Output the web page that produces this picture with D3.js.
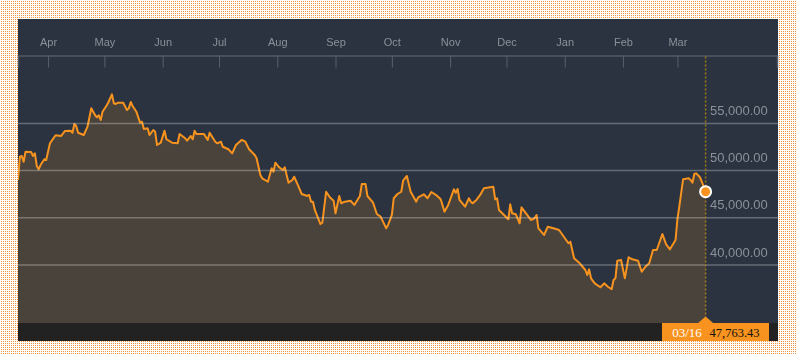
<!DOCTYPE html>
<html>
<head>
<meta charset="utf-8">
<script src="https://cdn.jsdelivr.net/npm/d3@7"></script>
<style>
  html, body { margin: 0; padding: 0; background: #fff; }
  #wrap { position: relative; width: 796px; height: 355px; }
  #bg, #chart { position: absolute; left: 0; top: 0; display: block; }
</style>
</head>
<body>
<div id="wrap">
<canvas id="bg" width="796" height="355"></canvas>
<svg id="chart" width="796" height="355"></svg>
</div>
<script>
const dates = [
"2023-03-16","2023-03-17","2023-03-18","2023-03-19","2023-03-20","2023-03-23","2023-03-24","2023-03-25","2023-03-26","2023-03-27",
"2023-03-28","2023-03-30","2023-03-31","2023-04-02","2023-04-03","2023-04-05","2023-04-08","2023-04-10","2023-04-13","2023-04-14",
"2023-04-15","2023-04-16","2023-04-17","2023-04-20","2023-04-22","2023-04-24","2023-04-26","2023-04-27","2023-04-28","2023-04-29",
"2023-04-30","2023-05-02","2023-05-03","2023-05-05","2023-05-06","2023-05-07","2023-05-08","2023-05-11","2023-05-13","2023-05-14",
"2023-05-15","2023-05-16","2023-05-18","2023-05-20","2023-05-21","2023-05-22","2023-05-24","2023-05-25","2023-05-27","2023-05-28",
"2023-05-29","2023-05-31","2023-06-02","2023-06-03","2023-06-06","2023-06-09","2023-06-10","2023-06-13","2023-06-14","2023-06-16",
"2023-06-17","2023-06-18","2023-06-19","2023-06-23","2023-06-25","2023-06-26","2023-06-29","2023-06-30","2023-07-02","2023-07-03",
"2023-07-06","2023-07-08","2023-07-10","2023-07-13","2023-07-14","2023-07-15","2023-07-17","2023-07-20","2023-07-21","2023-07-23",
"2023-07-24","2023-07-27","2023-07-29","2023-07-30","2023-07-31","2023-08-02","2023-08-04","2023-08-05","2023-08-07","2023-08-09",
"2023-08-10","2023-08-12","2023-08-14","2023-08-17","2023-08-18","2023-08-19","2023-08-20","2023-08-21","2023-08-24","2023-08-25",
"2023-08-27","2023-08-29","2023-08-31","2023-09-01","2023-09-03","2023-09-04","2023-09-06","2023-09-09","2023-09-11","2023-09-14",
"2023-09-15","2023-09-17","2023-09-18","2023-09-21","2023-09-23","2023-09-25","2023-09-28","2023-09-29","2023-10-01","2023-10-02",
"2023-10-04","2023-10-06","2023-10-07","2023-10-09","2023-10-11","2023-10-14","2023-10-15","2023-10-18","2023-10-20","2023-10-22",
"2023-10-25","2023-10-27","2023-10-29","2023-10-31","2023-11-03","2023-11-04","2023-11-05","2023-11-06","2023-11-09","2023-11-11",
"2023-11-12","2023-11-13","2023-11-15","2023-11-17","2023-11-19","2023-11-24","2023-11-25","2023-11-26","2023-11-27","2023-12-02",
"2023-12-03","2023-12-04","2023-12-06","2023-12-08","2023-12-09","2023-12-12","2023-12-14","2023-12-16","2023-12-17","2023-12-18",
"2023-12-21","2023-12-23","2023-12-26","2023-12-29","2024-01-03","2024-01-04","2024-01-06","2024-01-09","2024-01-12","2024-01-13",
"2024-01-14","2024-01-15","2024-01-17","2024-01-20","2024-01-22","2024-01-24","2024-01-26","2024-01-27","2024-01-28","2024-01-29",
"2024-01-31","2024-02-02","2024-02-04","2024-02-06","2024-02-09","2024-02-11","2024-02-13","2024-02-15","2024-02-17","2024-02-19",
"2024-02-22","2024-02-24","2024-02-26","2024-02-29","2024-03-01","2024-03-02","2024-03-04","2024-03-07","2024-03-08","2024-03-09",
"2024-03-10","2024-03-11","2024-03-13","2024-03-14","2024-03-16"
];
const values = [
49000,51470,51550,50940,52000,51970,51550,51830,50490,50140,
50590,51200,51120,52890,53170,53740,53670,54200,54230,54010,
54940,54720,54010,53770,54650,56600,55890,55650,55860,55360,
56240,56840,57190,58080,57130,57050,57190,57190,56420,56600,
57270,56840,56240,55070,55180,54410,54480,53770,54300,54120,
52710,52960,54230,53320,52960,52890,53880,53420,53170,53670,
53320,54230,53880,53880,53240,54010,53060,52890,53060,52530,
52260,51830,52710,53240,53170,53060,52260,51650,51300,49530,
49180,48820,50240,49880,50840,50350,50060,50350,48720,49000,
49350,48470,47520,47310,47420,46710,46710,45830,44340,44480,
47760,47170,46810,45480,47310,46540,46710,46810,46360,47310,
48580,48580,47310,46600,45400,45120,43890,44240,45300,47070,
47520,47760,48930,49430,47760,46710,47170,47490,47070,47730,
47340,46960,45650,46360,48020,47660,48050,46890,46180,47070,
46710,46540,46890,47420,48120,48290,46960,47070,45830,44840,
46430,45480,45370,44420,46110,45300,44770,44950,45300,43890,
43180,44060,43890,43710,42300,42470,40710,40180,39470,38940,
39540,38590,38060,37640,38060,37700,37430,38410,38590,40460,
40530,38590,40820,40600,40460,39290,39820,40180,41590,41590,
43280,42190,41660,42650,44870,46180,49080,49180,49000,48720,
49640,49710,49290,48820,47763.43
];
const monthTicks = ["2023-04-01","2023-05-01","2023-06-01","2023-07-01","2023-08-01","2023-09-01",
  "2023-10-01","2023-11-01","2023-12-01","2024-01-01","2024-02-01","2024-03-01"];
const yTicks = [40000, 45000, 50000, 55000];
const xDomain = ["2023-03-16", "2024-04-23"];
const yRef = [40000, 55000];
const lastDate = "2024-03-16";
const lastValue = 47763.43;

const parse = d3.utcParse("%Y-%m-%d");
const data = dates.map((d, i) => ({ date: parse(d), value: values[i] }));

const W = 796, H = 355;
const panel = { x: 18, y: 19, w: 760, h: 322 };
const plotBottom = 323;
const axisY = 55.5;

// dotted page background on a canvas (1px orange dot every 2px)
(function () {
  const c = document.getElementById("bg");
  const ctx = c.getContext("2d");
  ctx.fillStyle = "#ffffff";
  ctx.fillRect(0, 0, W, H);
  const tile = document.createElement("canvas");
  tile.width = 2; tile.height = 2;
  const tctx = tile.getContext("2d");
  tctx.fillStyle = "#ffffff"; tctx.fillRect(0, 0, 2, 2);
  tctx.fillStyle = "#f2923a"; tctx.fillRect(1, 1, 1, 1);
  ctx.fillStyle = ctx.createPattern(tile, "repeat");
  ctx.fillRect(0, 0, W, H);
})();

const svg = d3.select("#chart");
const defs = svg.append("defs");

defs.append("clipPath").attr("id", "clip")
  .append("rect").attr("x", panel.x).attr("y", panel.y).attr("width", panel.w).attr("height", plotBottom - panel.y);

svg.append("rect").attr("x", panel.x).attr("y", panel.y).attr("width", panel.w).attr("height", panel.h)
  .attr("fill", "#2a333f");
svg.append("rect").attr("x", panel.x).attr("y", plotBottom).attr("width", panel.w).attr("height", panel.y + panel.h - plotBottom)
  .attr("fill", "#222222");

const x = d3.scaleUtc().domain(xDomain.map(parse)).range([18, 777]);
const y = d3.scaleLinear().domain(yRef).range([265, 123.4]);

const g = svg.append("g").attr("clip-path", "url(#clip)");

const area = d3.area().x(d => x(d.date)).y0(plotBottom).y1(d => y(d.value));
const line = d3.line().x(d => x(d.date)).y(d => y(d.value));

g.append("path").datum(data).attr("d", area).attr("fill", "#4a433c");

// gridlines
svg.append("g").selectAll("line").data(yTicks).join("line")
  .attr("x1", panel.x).attr("x2", panel.x + panel.w)
  .attr("y1", d => y(d)).attr("y2", d => y(d))
  .attr("stroke", "rgba(255,255,255,0.28)").attr("stroke-width", 1.5);

g.append("path").datum(data).attr("d", line).attr("fill", "none")
  .attr("stroke", "#f7931e").attr("stroke-width", 2).attr("stroke-linejoin", "round");

// y labels
svg.append("g").selectAll("text").data(yTicks).join("text")
  .attr("x", 710).attr("y", d => y(d) - 8.5)
  .attr("font-family", "'Liberation Sans', Arial, Helvetica, sans-serif")
  .attr("font-size", 13).attr("fill", "#8b9199")
  .text(d => d3.format(",.2f")(d));

// top axis
const xAxis = d3.axisBottom(x).tickValues(monthTicks.map(parse))
  .tickFormat(d3.utcFormat("%b")).tickSize(12).tickSizeOuter(12);
const ax = svg.append("g").attr("transform", `translate(0,${axisY})`).call(xAxis);
ax.select(".domain").attr("stroke", "#525a64").attr("stroke-width", 1.5);
ax.selectAll(".tick line").attr("stroke", "#59606a").attr("stroke-width", 1);
ax.selectAll(".tick text").attr("y", -9.5).attr("dy", 0)
  .attr("font-family", "'Liberation Sans', Arial, Helvetica, sans-serif")
  .attr("font-size", 11).attr("fill", "#8b9199");

// vertical dotted marker line
const lx = x(parse(lastDate));
svg.append("line").attr("x1", lx).attr("x2", lx).attr("y1", axisY + 1).attr("y2", 317)
  .attr("stroke", "#a57a1c").attr("stroke-width", 1.5).attr("stroke-dasharray", "2,2");

// marker circle
svg.append("circle").attr("cx", lx).attr("cy", y(lastValue)).attr("r", 5.5)
  .attr("fill", "#f7931e").attr("stroke", "#ffffff").attr("stroke-width", 2);

// footer label
svg.append("path").attr("d", `M${lx - 7.5},323 L${lx},316.5 L${lx + 7.5},323 Z`).attr("fill", "#f7931e");
svg.append("rect").attr("x", 662).attr("y", 323).attr("width", 107).attr("height", 18).attr("fill", "#f7931e");
svg.append("text").attr("x", 687).attr("y", 337).attr("text-anchor", "middle")
  .attr("font-family", "'Liberation Serif', 'Times New Roman', serif").attr("font-size", 13)
  .attr("fill", "#ffffff").text(d3.utcFormat("%m/%d")(parse(lastDate)));
svg.append("text").attr("x", 759.5).attr("y", 337).attr("text-anchor", "end")
  .attr("font-family", "'Liberation Serif', 'Times New Roman', serif").attr("font-size", 12.5)
  .attr("fill", "#111111").text(d3.format(",.2f")(lastValue));
</script>
</body>
</html>
